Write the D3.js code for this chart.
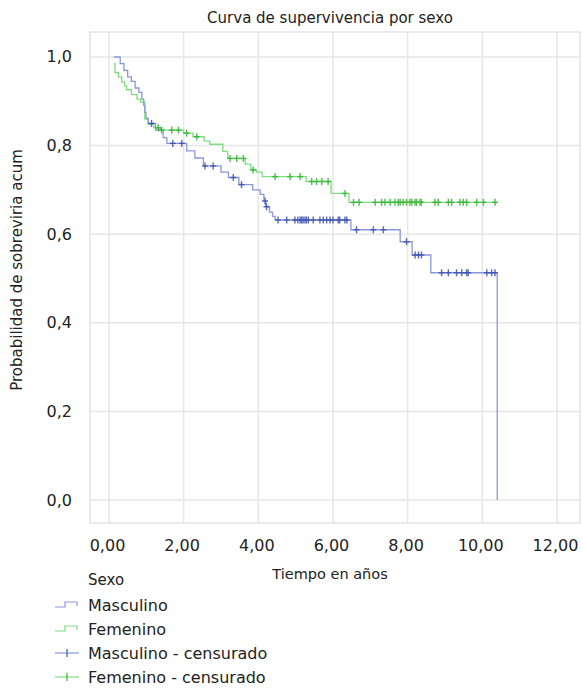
<!DOCTYPE html>
<html><head><meta charset="utf-8">
<script src="https://cdn.jsdelivr.net/npm/d3@7"></script>
<style>body{margin:0;background:#fff}svg{display:block;font-family:"DejaVu Sans",Verdana,sans-serif}</style>
</head><body><svg id="c" width="583" height="688"></svg>
<script>
// ---- data ----
const xTicks = [0, 2, 4, 6, 8, 10, 12];
const yTicks = [0, 0.2, 0.4, 0.6, 0.8, 1.0];
const series = ["Masculino", "Femenino"];
// Kaplan-Meier step points (time, survival after the step)
const mascTime = [0.13, 0.30, 0.40, 0.50, 0.60, 0.70, 0.80, 0.88, 0.93, 0.96, 0.99, 1.05, 1.25, 1.45, 1.55, 2.08, 2.30, 2.53, 3.00, 3.20, 3.48, 3.85, 4.05, 4.15, 4.20, 4.30, 4.38, 4.45, 6.48, 7.80, 8.12, 8.62, 10.40];
const mascSurv = [1.000, 0.985, 0.970, 0.955, 0.945, 0.930, 0.920, 0.905, 0.890, 0.875, 0.862, 0.850, 0.835, 0.818, 0.805, 0.788, 0.772, 0.754, 0.740, 0.728, 0.712, 0.700, 0.690, 0.675, 0.662, 0.650, 0.640, 0.632, 0.610, 0.583, 0.553, 0.513, 0.000];
const femTime = [0.13, 0.16, 0.25, 0.34, 0.42, 0.47, 0.60, 0.75, 0.85, 0.96, 1.05, 1.20, 1.38, 2.00, 2.25, 2.55, 2.70, 3.05, 3.18, 3.65, 3.80, 3.95, 4.10, 5.28, 5.95, 6.43, 10.39];
const femSurv = [0.985, 0.965, 0.955, 0.944, 0.935, 0.926, 0.915, 0.905, 0.898, 0.860, 0.848, 0.840, 0.835, 0.828, 0.820, 0.810, 0.803, 0.787, 0.771, 0.758, 0.745, 0.740, 0.730, 0.719, 0.692, 0.672, 0.672];
// censored observation times
const mascCens = [1.14, 1.71, 1.95, 2.57, 2.79, 3.33, 3.55, 4.18, 4.22, 4.53, 4.76, 4.98, 5.06, 5.12, 5.16, 5.20, 5.25, 5.29, 5.34, 5.47, 5.65, 5.74, 5.83, 5.92, 6.00, 6.14, 6.18, 6.32, 6.37, 6.63, 7.08, 7.35, 7.97, 8.20, 8.29, 8.37, 8.91, 9.09, 9.31, 9.45, 9.58, 9.62, 10.12, 10.25, 10.34];
const femCens = [1.32, 1.41, 1.68, 1.86, 2.08, 2.35, 3.24, 3.42, 3.60, 3.86, 4.45, 4.85, 5.12, 5.43, 5.56, 5.70, 5.87, 6.32, 6.55, 6.70, 7.13, 7.30, 7.39, 7.53, 7.66, 7.75, 7.80, 7.88, 7.97, 8.06, 8.11, 8.20, 8.24, 8.33, 8.37, 8.73, 8.82, 9.09, 9.18, 9.40, 9.49, 9.58, 9.85, 10.03, 10.34];
const legendLabels = ["Masculino", "Femenino", "Masculino - censurado", "Femenino - censurado"];

// ---- drawing ----
const svg = d3.select("#c");
const L = 90, R = 580, T = 32, B = 523;
const x = d3.scaleLinear().domain([-0.509, 12.617]).range([L, R]);
const y = d3.scaleLinear().domain([-0.0519, 1.0564]).range([B, T]);
const fmtX = v => d3.format(".2f")(v).replace(".", ",");
const fmtY = v => d3.format(".1f")(v).replace(".", ",");

const lineCol = ["#8a98da", "#80dd80"];
const markCol = ["#3a4fae", "#2fb52f"];

svg.append("text").attr("x", 330).attr("y", 23).attr("text-anchor", "middle")
  .attr("font-size", 15).attr("fill", "#222").text("Curva de supervivencia por sexo");

// frame
svg.append("rect").attr("x", L).attr("y", T).attr("width", R - L).attr("height", B - T)
  .attr("fill", "#fff").attr("stroke", "#e3e3e3").attr("stroke-width", 1.5);

// grid
svg.append("g").selectAll("line").data(xTicks).join("line")
  .attr("x1", d => x(d)).attr("x2", d => x(d)).attr("y1", T).attr("y2", B)
  .attr("stroke", "#e6e6e6").attr("stroke-width", 1.5);
svg.append("g").selectAll("line").data(yTicks).join("line")
  .attr("y1", d => y(d)).attr("y2", d => y(d)).attr("x1", L).attr("x2", R)
  .attr("stroke", "#e6e6e6").attr("stroke-width", 1.5);

// axes labels
svg.append("g").selectAll("text").data(xTicks).join("text")
  .attr("x", d => x(d) - 1.5).attr("y", 551).attr("text-anchor", "middle")
  .attr("font-size", 16).attr("fill", "#222").text(fmtX);
svg.append("g").selectAll("text").data(yTicks).join("text")
  .attr("x", 72).attr("y", d => y(d) + 5.5).attr("text-anchor", "end")
  .attr("font-size", 16).attr("fill", "#222").text(fmtY);

svg.append("text").attr("x", 330).attr("y", 579).attr("text-anchor", "middle")
  .attr("font-size", 14.5).attr("fill", "#222").text("Tiempo en años");
svg.append("text").attr("transform", "translate(22,270) rotate(-90)").attr("text-anchor", "middle")
  .attr("font-size", 15).attr("fill", "#222").text("Probabilidad de sobreviria acum");

// curves
const curves = [
  mascTime.map((t, i) => [t, mascSurv[i]]),
  femTime.map((t, i) => [t, femSurv[i]])
];
const cens = [mascCens, femCens];
const line = d3.line().x(d => x(d[0])).y(d => y(d[1])).curve(d3.curveStepAfter);
const survAt = (pts, t) => { let s = pts[0][1]; for (const p of pts) { if (p[0] <= t) s = p[1]; } return s; };

[1, 0].forEach(k => {
  svg.append("path").attr("d", line(curves[k])).attr("fill", "none")
    .attr("stroke", lineCol[k]).attr("stroke-width", 1.3);
});
[1, 0].forEach(k => {
  const g = svg.append("g").attr("stroke", markCol[k]).attr("stroke-width", 1.4).attr("opacity", 0.85);
  cens[k].forEach(t => {
    const cx = x(t), cy = y(survAt(curves[k], t));
    g.append("line").attr("x1", cx).attr("x2", cx).attr("y1", cy - 3.5).attr("y2", cy + 3.5);
    g.append("line").attr("x1", cx - 3).attr("x2", cx + 3).attr("y1", cy).attr("y2", cy);
  });
});

// legend
svg.append("text").attr("x", 88).attr("y", 585).attr("font-size", 15).attr("fill", "#222").text("Sexo");
const lg = svg.append("g");
legendLabels.forEach((lab, i) => {
  const cy = 605 + i * 24;
  const k = i % 2;
  if (i < 2) {
    lg.append("path").attr("d", `M55,${cy + 2} H65 V${cy - 3} H77 V${cy + 1}`)
      .attr("fill", "none").attr("stroke", lineCol[k]).attr("stroke-width", 1.2);
  } else {
    lg.append("line").attr("x1", 55).attr("x2", 79).attr("y1", cy).attr("y2", cy)
      .attr("stroke", lineCol[k]).attr("stroke-width", 1.2);
    lg.append("line").attr("x1", 67).attr("x2", 67).attr("y1", cy - 4).attr("y2", cy + 4)
      .attr("stroke", markCol[k]).attr("stroke-width", 1.2);
  }
  lg.append("text").attr("x", 88).attr("y", cy + 6).attr("font-size", 16).attr("fill", "#222").text(lab);
});
</script></body></html>
